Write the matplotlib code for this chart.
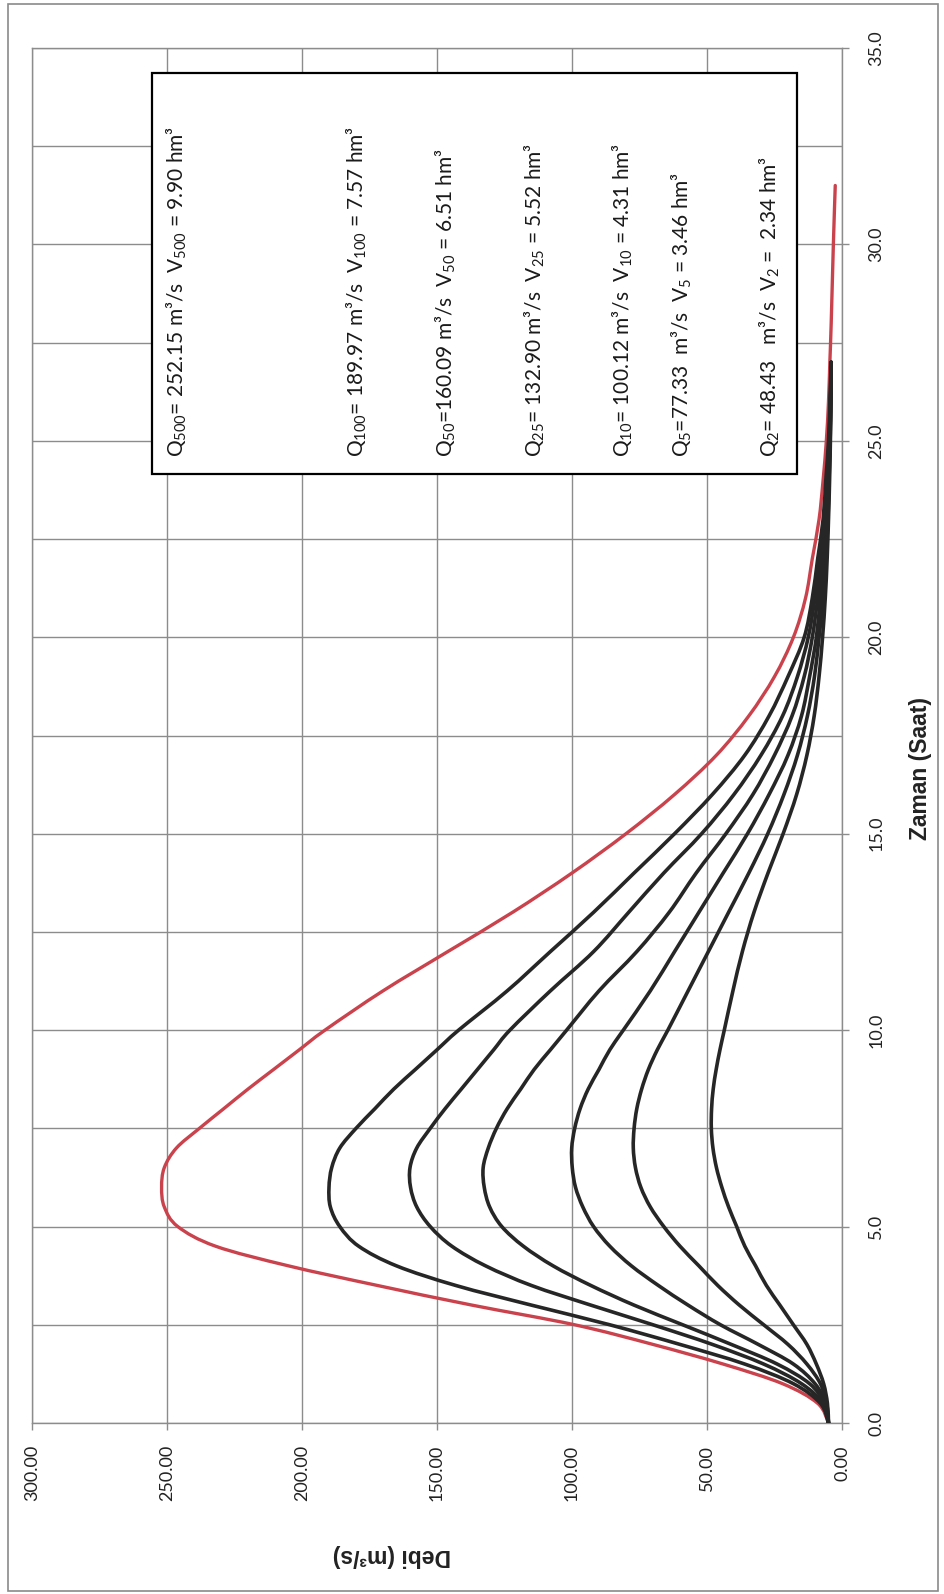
import matplotlib
matplotlib.use("Agg")
import matplotlib.pyplot as plt
from matplotlib.patches import Rectangle, PathPatch
from matplotlib.path import Path
from matplotlib.ticker import MultipleLocator, FormatStrFormatter

plt.rcParams['font.family'] = ['Lato', 'DejaVu Sans']
plt.rcParams['mathtext.fontset'] = 'custom'
plt.rcParams['mathtext.rm'] = 'Lato'
plt.rcParams['mathtext.it'] = 'Lato:italic'
plt.rcParams['mathtext.bf'] = 'Lato:bold'

# time axis (saat)
hours = [0, 0.5, 1, 1.5, 2, 2.5, 3, 3.5, 4, 4.5, 5, 5.5, 6, 6.5, 7, 7.5, 8, 8.5, 9, 9.5,
         10, 11, 12, 13, 14, 15, 16, 17, 18, 19, 20, 21, 22, 23, 24, 25, 26, 27]
hours_500 = hours + [28, 30, 31.5]

# discharge hydrographs (m3/s)
q500 = [5, 9, 22, 44, 70, 99, 137, 172, 205, 232, 246, 251, 252, 251, 246.5, 238, 229, 220, 210.5, 201,
        191.5, 170, 146, 122, 100, 80, 62, 46.5, 34.5, 25, 18, 13.5, 11, 8.5, 7, 5.8, 5, 4.5, 4, 3.2, 2.5]
q100 = [5, 8, 18, 36, 60, 86, 115, 143, 165, 179, 186, 189.5, 190, 189, 186, 180, 173, 166, 158, 150,
        142, 124, 108, 92, 77, 62, 48, 36, 27, 20, 14, 11, 9, 7, 6, 5, 4.5, 4]
q50 = [5, 7, 15, 29, 48, 70, 93, 115, 132, 144.5, 152.5, 157.5, 159.8, 160, 157.5, 152.5, 147, 141, 135, 129,
       123, 108, 92, 79, 66, 52, 40, 30, 22, 16.5, 12.5, 10, 8, 6.5, 5.5, 4.8, 4.3, 4]
q25 = [5, 6.5, 12, 24, 41, 59, 77, 93, 107, 118, 126, 130.5, 132.5, 132.9, 131, 128, 124, 119, 114, 108,
       102, 90, 76, 64, 54, 43, 33, 25, 18.5, 14, 11, 9, 7.5, 6, 5.2, 4.6, 4.2, 4]
q10 = [5, 6, 10, 18, 31, 45, 57, 68, 78, 86, 92, 96, 98.7, 99.9, 100.1, 99, 97, 94, 90, 86,
       81, 71, 62, 53, 44, 35, 27, 20, 15, 12, 9.5, 8, 6.5, 5.5, 5, 4.5, 4.2, 4]
q5 = [5, 5.7, 8, 13, 20, 29, 38, 46, 53, 60, 66, 71, 74.5, 76.5, 77.3, 77, 76, 74.2, 71.7, 68.4,
      64.5, 57, 49.5, 42, 34.5, 27.5, 21.5, 16.5, 12.8, 10.2, 8.5, 7, 6, 5.2, 4.8, 4.4, 4.1, 4]
q2 = [5, 5.4, 6.8, 9.5, 13, 18, 23, 28, 32, 36, 39, 42, 44.5, 46.5, 47.8, 48.4, 48.3, 47.7, 46.6, 45.2,
      43.6, 40.4, 36.9, 32.6, 27.4, 21.8, 16.8, 13, 10.3, 8.5, 7.2, 6.2, 5.5, 5, 4.6, 4.3, 4.1, 4]

box_lines = [
    r'Q$_{500}$= 252.15 m³/s  V$_{500}$ = 9.90 hm³',
    r'Q$_{100}$= 189.97 m³/s  V$_{100}$ = 7.57 hm³',
    r'Q$_{50}$=160.09 m³/s  V$_{50}$ = 6.51 hm³',
    r'Q$_{25}$= 132.90 m³/s  V$_{25}$ = 5.52 hm³',
    r'Q$_{10}$= 100.12 m³/s  V$_{10}$ = 4.31 hm³',
    r'Q$_{5}$=77.33  m³/s  V$_{5}$ = 3.46 hm³',
    r'Q$_{2}$= 48.43   m³/s  V$_{2}$ =  2.34 hm³',
]

W, H = 944, 1594
GRID = '#8c8c8c'
RED = '#c9424c'
BLACK = '#262626'


def fx(px):
    return px / W


def fy(py):
    return 1 - py / H


def smooth_path(xs, ys):
    """Excel-like smoothed line: Catmull-Rom segments as cubic Beziers."""
    pts = list(zip(xs, ys))
    n = len(pts)
    verts = [pts[0]]
    codes = [Path.MOVETO]
    for i in range(n - 1):
        p0 = pts[max(i - 1, 0)]
        p1 = pts[i]
        p2 = pts[i + 1]
        p3 = pts[min(i + 2, n - 1)]
        c1 = (p1[0] + (p2[0] - p0[0]) / 6, p1[1] + (p2[1] - p0[1]) / 6)
        c2 = (p2[0] - (p3[0] - p1[0]) / 6, p2[1] - (p3[1] - p1[1]) / 6)
        verts += [c1, c2, p2]
        codes += [Path.CURVE4] * 3
    return Path(verts, codes)


fig = plt.figure(figsize=(W / 100, H / 100), dpi=100)
fig.patch.set_facecolor('white')

# chart is drawn turned a quarter: discharge runs right->left, time bottom->top
ax = fig.add_axes([fx(32), fy(1423), fx(842) - fx(32), fy(48) - fy(1423)])
ax.add_patch(PathPatch(smooth_path(q500, hours_500), fill=False, edgecolor=RED,
                       lw=2.4, zorder=3, capstyle='round', joinstyle='round'))
for q in (q100, q50, q25, q10, q5, q2):
    ax.add_patch(PathPatch(smooth_path(q, hours), fill=False, edgecolor=BLACK,
                           lw=2.6, zorder=4, capstyle='round', joinstyle='round'))

ax.set_xlim(300, 0)
ax.set_ylim(0, 35)
ax.xaxis.set_major_locator(MultipleLocator(50))
ax.xaxis.set_major_formatter(FormatStrFormatter('%.2f'))
ax.yaxis.set_major_locator(MultipleLocator(5))
ax.yaxis.set_minor_locator(MultipleLocator(2.5))
ax.yaxis.set_major_formatter(FormatStrFormatter('%.1f'))
ax.yaxis.tick_right()

ax.grid(True, which='both', color=GRID, lw=1.0)
ax.set_axisbelow(True)
for s in ax.spines.values():
    s.set_color(GRID)
    s.set_linewidth(1.0)

ax.tick_params(axis='x', which='major', direction='out', length=5, width=1, color=GRID,
               pad=11, labelsize=13, labelrotation=90, labelcolor='#222222')
ax.tick_params(axis='y', which='major', direction='out', length=5, width=1, color=GRID,
               pad=14, labelsize=13, labelrotation=90, labelcolor='#222222',
               left=False, right=True)
ax.tick_params(axis='y', which='minor', length=0, left=False, right=False)
plt.setp(ax.get_yticklabels(), va='center')

# axis titles
title_font = ['Liberation Sans', 'DejaVu Sans']
fig.text(fx(921), fy(768), 'Zaman (Saat)', rotation=90, ha='center', va='center',
         fontsize=16.5, fontweight='bold', family=title_font, color='#222222')
fig.text(fx(392), fy(1555), 'Debi (m³/s)', rotation=180, ha='center', va='center',
         fontsize=16.5, fontweight='bold', family=title_font, color='#222222')

# info box
fig.add_artist(Rectangle((fx(152), fy(474)), fx(797) - fx(152), fy(73) - fy(474),
                         transform=fig.transFigure, facecolor='white', edgecolor='black',
                         lw=1.6, zorder=5))
for x, s in zip([184, 364, 453, 542, 630, 689, 777], box_lines):
    fig.text(fx(x), fy(457), s, rotation=90, rotation_mode='anchor', ha='left',
             va='baseline', fontsize=15, color='#1a1a1a', zorder=6)

# outer frame
fig.add_artist(Rectangle((fx(8), fy(1591)), fx(938) - fx(8), fy(4) - fy(1591),
                         transform=fig.transFigure, fill=False, edgecolor='#8a8a8a', lw=1.2))

fig.savefig('out.png', dpi=100)
